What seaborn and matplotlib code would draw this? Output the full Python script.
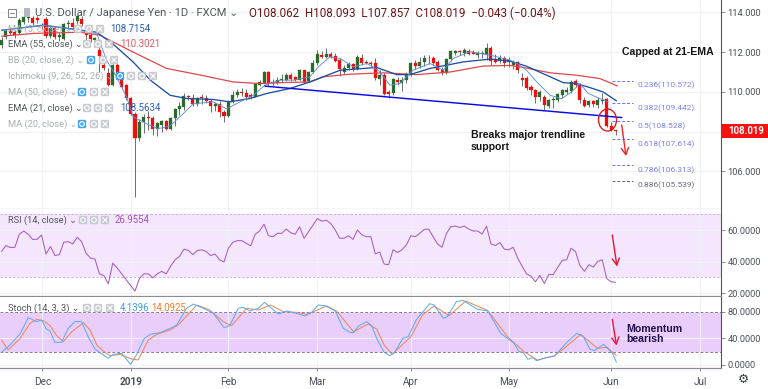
import matplotlib
matplotlib.use("Agg")
import matplotlib.pyplot as plt
from matplotlib.patches import FancyBboxPatch, Ellipse, Rectangle
import numpy as np
import seaborn as sns

# candles, one value per trading day
opens = [112.35, 112.75, 113.05, 113.0, 112.95, 113.5, 113.72, 113.7, 113.7, 113.3, 113.65, 112.8, 113.2, 112.78, 112.65, 113.4, 113.45, 113.55, 113.65, 112.95,
         112.85, 112.6, 112.1, 111.35, 110.95, 110.35, 111.35, 110.7, 110.35, 109.7, 108.9, 107.67, 108.5, 108.75, 108.7, 108.15, 108.35, 108.55, 108.15, 108.7,
         109.15, 109.25, 109.8, 109.7, 109.4, 109.7, 109.7, 109.55, 109.3, 109.4, 109.0, 108.8, 109.5, 109.85, 110.0, 109.95, 109.83, 109.75, 110.37, 110.45,
         111.0, 110.45, 110.45, 110.6, 110.6, 110.85, 110.76, 110.62, 111.09, 110.55, 111.0, 111.43, 111.88, 111.77, 111.93, 111.8, 111.6, 110.98, 111.21, 111.4,
         111.14, 111.71, 111.48, 111.46, 111.43, 110.67, 110.84, 110.0, 109.95, 110.62, 110.47, 110.59, 110.87, 111.43, 111.31, 111.48, 111.71, 111.68, 111.48, 111.09,
         110.96, 111.65, 111.97, 112.02, 111.97, 112.05, 112.02, 111.85, 111.93, 111.85, 112.22, 111.63, 111.55, 111.68, 111.5, 111.35, 111.5, 110.72, 110.72, 110.25,
         110.1, 109.75, 109.75, 109.3, 109.58, 109.58, 109.83, 110.02, 110.03, 110.53, 110.37, 109.6, 109.33, 109.52, 109.33, 109.55, 109.63, 108.3, 108.062]
highs = [112.75, 113.15, 113.2, 113.1, 113.7, 113.85, 113.85, 113.8, 113.8, 113.45, 113.75, 113.3, 113.3, 113.0, 113.45, 113.6, 113.7, 113.85, 113.8, 113.0,
         113.0, 112.75, 112.25, 111.7, 111.2, 111.4, 111.45, 110.85, 110.4, 109.75, 109.0, 108.65, 108.9, 109.05, 108.8, 108.5, 108.6, 108.6, 108.75, 109.2,
         109.5, 109.95, 109.85, 109.9, 109.75, 109.9, 109.85, 109.65, 109.5, 109.55, 109.1, 109.6, 110.05, 110.15, 110.2, 110.15, 109.95, 110.47, 110.6, 111.05,
         111.05, 110.65, 110.75, 110.92, 110.95, 110.95, 110.8, 111.15, 111.12, 111.05, 111.6, 112.12, 112.08, 112.2, 112.0, 111.95, 111.68, 111.35, 111.5, 111.45,
         111.85, 111.93, 111.62, 111.55, 111.68, 111.1, 110.95, 110.1, 110.72, 110.75, 110.75, 111.0, 111.5, 111.6, 111.75, 111.85, 111.85, 111.82, 111.62, 111.25,
         111.7, 112.1, 112.12, 112.1, 112.2, 112.15, 112.1, 112.05, 112.05, 112.45, 112.3, 111.9, 111.85, 111.8, 111.75, 111.6, 111.55, 110.95, 110.8, 110.35,
         110.15, 110.1, 109.85, 109.65, 109.75, 109.95, 110.15, 110.25, 110.6, 110.65, 110.45, 109.75, 109.6, 109.6, 109.75, 109.95, 109.68, 108.5, 108.093]
lows = [112.2, 112.65, 112.85, 112.7, 112.9, 113.4, 113.5, 113.35, 113.45, 113.15, 112.7, 112.7, 112.65, 112.55, 112.6, 113.15, 113.1, 113.4, 113.3, 112.6,
        112.5, 112.5, 111.0, 111.1, 110.3, 110.3, 110.85, 110.15, 109.6, 108.85, 104.7, 107.55, 107.95, 108.1, 107.85, 107.8, 108.0, 108.1, 108.1, 108.3,
        108.85, 109.1, 109.6, 109.3, 109.3, 109.4, 109.45, 109.0, 109.05, 108.75, 108.5, 108.75, 109.45, 109.75, 109.8, 109.6, 109.65, 109.72, 110.3, 110.42,
        110.3, 110.3, 110.4, 110.5, 110.55, 110.55, 110.55, 110.58, 110.45, 110.5, 110.95, 111.35, 111.68, 111.7, 111.7, 111.5, 110.79, 110.9, 111.1, 111.05,
        111.1, 111.35, 111.38, 111.3, 110.6, 110.34, 109.85, 109.7, 109.85, 110.35, 110.05, 110.45, 110.8, 111.15, 111.2, 111.3, 111.4, 111.35, 111.05, 110.85,
        110.9, 111.55, 111.85, 111.85, 111.8, 111.85, 111.9, 111.7, 111.7, 111.6, 111.35, 111.45, 111.45, 111.25, 111.25, 111.15, 110.95, 110.3, 110.1, 109.85,
        109.45, 109.55, 109.07, 109.2, 109.2, 109.5, 109.7, 109.9, 109.95, 110.25, 109.45, 109.25, 109.25, 109.25, 109.2, 109.4, 108.25, 108.02, 107.857]
closes = [112.6, 113.05, 112.95, 112.85, 113.6, 113.78, 113.78, 113.45, 113.62, 113.38, 112.8, 113.2, 112.75, 112.85, 113.4, 113.45, 113.25, 113.8, 113.4, 112.85,
          112.65, 112.7, 111.8, 111.2, 110.35, 111.35, 110.95, 110.25, 109.7, 108.9, 107.67, 108.5, 108.75, 108.68, 108.15, 108.45, 108.55, 108.15, 108.7, 109.15,
          109.3, 109.8, 109.75, 109.4, 109.7, 109.68, 109.55, 109.3, 109.4, 109.0, 108.8, 109.5, 109.85, 110.0, 109.95, 109.75, 109.72, 110.42, 110.5, 111.0,
          110.45, 110.5, 110.62, 110.62, 110.85, 110.67, 110.62, 111.09, 110.5, 111.0, 111.46, 111.93, 111.77, 111.93, 111.77, 111.56, 111.14, 111.22, 111.4, 111.14,
          111.73, 111.46, 111.43, 111.38, 110.7, 110.84, 109.92, 109.92, 110.67, 110.49, 110.62, 110.89, 111.43, 111.31, 111.51, 111.68, 111.68, 111.46, 111.09, 110.96,
          111.65, 112.05, 112.07, 112.0, 112.1, 111.9, 111.93, 111.98, 111.97, 112.22, 111.55, 111.51, 111.68, 111.43, 111.6, 111.5, 111.1, 110.6, 110.22, 110.1,
          109.75, 110.0, 109.33, 109.6, 109.62, 109.88, 110.1, 110.08, 110.5, 110.37, 109.58, 109.3, 109.52, 109.4, 109.6, 109.6, 108.28, 108.1, 108.019]

# moving averages, read at the visible bends
ema5_x = [0, 9.4, 14.6, 21.4, 23.6, 25.5, 28.1, 29.6, 32.6, 35.2, 37.9, 40.1, 43.1, 47.6, 50.6, 53.6, 56.6, 59.2, 62.6, 65.6, 69.3, 71.2, 73.8, 76.1, 79.1, 82.1, 84.7,
          87.3, 89.5, 92.5, 96.3, 99.3, 101.5, 105.3, 109.8, 114.3, 115.8, 118, 120.3, 123.3, 125.9, 128.1, 130, 131.9, 134.5, 136.4]
ema5_y = [113.1, 113.35, 113.2, 112.94, 111.6, 110.9, 109.75, 108.75, 108.4, 108.15, 108.3, 108.75, 109.4, 109.5, 109.15, 109.5, 109.83, 110.34, 110.59, 110.59, 110.76, 111.26, 111.76, 111.68, 111.26, 111.43, 111.09,
          110.34, 110.42, 111.09, 111.43, 111.09, 111.68, 112.02, 111.85, 111.6, 111.43, 111.09, 110.5, 109.83, 109.66, 110.0, 110.42, 109.92, 109.66, 109.5]
ema21_x = [0, 9.4, 21.4, 25.1, 29.6, 33.4, 37.9, 41.6, 47.6, 51.3, 55.8, 59.6, 64.8, 69.3, 76.1, 84.3, 88.8, 91.8, 96.3, 103.8, 109.8, 114.3, 118, 120.3, 123.3, 126.2, 129.2, 132.2, 135.2, 138.2]
ema21_y = [113.1, 113.35, 113.0, 112.4, 111.5, 110.6, 109.83, 109.67, 109.62, 109.5, 109.67, 109.92, 110.17, 110.5, 111.09, 111.23, 110.87, 110.87, 111.18, 111.51, 111.65, 111.55, 111.29, 111.06, 110.76, 110.47, 110.42, 110.22, 110.0, 109.55]
ema55_x = [0, 7.2, 17.6, 22.1, 29.6, 37.1, 44.6, 52.1, 58.1, 63.3, 69.3, 72.3, 78.3, 85.8, 93.3, 100.8, 108.3, 114.3, 116.5, 119.5, 123.3, 129.2, 134.5, 138.4]
ema55_y = [112.8, 112.94, 113.0, 112.85, 112.0, 111.18, 110.85, 110.5, 110.42, 110.47, 110.5, 110.76, 110.89, 110.96, 110.87, 111.0, 111.3, 111.33, 111.26, 111.13, 110.96, 110.84, 110.67, 110.3]

trend_x = [59.2, 139.4]
trend_y = [110.29, 108.71]

fib_levels = [110.572, 109.442, 108.528, 107.614, 106.313, 105.539]
fib_labels = ["0.236(110.572)", "0.382(109.442)", "0.5(108.528)", "0.618(107.614)", "0.786(106.313)", "0.886(105.539)"]

rsi = [46.4, 50.2, 48.9, 49.1, 57.3, 59.4, 57.3, 54.1, 54.1, 56.9, 44.8, 49.6, 43.9, 44.4, 52.3, 52.7, 51.2, 55.4, 52.7, 45.4,
       42.3, 41.6, 32.3, 31.2, 26.0, 39.1, 36.0, 32.3, 28.7, 25.0, 21.4, 29.4, 32.3, 32.3, 29.8, 32.3, 33.9, 32.3, 37.1, 41.2,
       43.3, 47.9, 47.1, 44.4, 47.1, 47.5, 46.4, 43.9, 44.8, 41.2, 39.8, 48.5, 52.3, 53.3, 53.3, 51.6, 50.0, 57.3, 59.4, 63.7,
       56.4, 55.8, 57.9, 57.9, 60.6, 58.3, 57.3, 62.1, 54.8, 58.9, 63.1, 67.3, 65.6, 66.2, 64.1, 60.0, 54.8, 54.8, 56.4, 54.1,
       60.0, 56.9, 55.8, 55.8, 45.0, 46.0, 38.5, 38.1, 47.5, 45.8, 47.5, 50.6, 56.4, 55.8, 57.9, 60.4, 60.6, 55.8, 51.2, 49.1,
       57.9, 62.1, 62.5, 61.6, 62.5, 60.6, 59.4, 59.4, 57.5, 62.5, 51.2, 50.2, 52.1, 47.9, 47.5, 49.1, 42.3, 37.1, 32.3, 30.8,
       27.3, 31.4, 26.2, 31.9, 31.9, 36.4, 40.8, 41.2, 48.5, 46.4, 37.5, 33.9, 38.1, 36.6, 40.2, 41.2, 29.4, 27.3, 26.96]

stoch_k_x = [0, 1.9, 4.2, 6.0, 7.9, 9, 10.1, 10.9, 12, 13.5, 15, 16.5, 18, 19.5, 21, 22.1, 24, 25.1, 27, 29, 30.5, 32, 33.4, 35.6, 37.9, 39.4, 41.6, 43.1, 45.4, 47.6,
             50, 51.3, 53.2, 54.3, 55.8, 57.7, 59.1, 60.7, 62.2, 64.1, 66.3, 68.2, 69.7, 71.2, 72.7, 75, 76.8, 78.3, 79.1, 80.2, 82.1, 83.2, 84.3, 86,
             87.2, 88.2, 90.2, 91.4, 93.2, 96.2, 97.2, 99.3, 100.2, 102.2, 103.7, 107, 109.3, 112.2, 115.2, 116.3, 117.2, 118.3, 119.3, 120.3, 122.3, 124.3, 127.2, 129.3, 130.8, 132.2, 133.2, 135.3, 137.3, 138.2]
stoch_k_y = [19, 30, 47, 71, 65, 67.5, 54, 51, 34, 34, 55, 65, 65, 42, 24, 18.5, 10, 16, 17.5, 1, 17.5, 39, 46, 48.5, 55, 60, 85, 91.5, 85, 77.5,
             56, 59, 85, 86.5, 81, 85, 94, 85, 76.5, 81, 77.5, 73.5, 79, 90, 89, 81, 55, 49, 48.5, 58.5, 65, 59, 40, 19,
             14, 17.5, 40, 42.5, 67.5, 92, 90, 70, 72.5, 95, 97, 83.5, 81, 47.5, 32.5, 20, 19, 8.5, 11, 6.5, 11, 13.5, 35, 47.5, 42.5, 24, 21.5, 31, 17.5, 4.14]
stoch_d_x = [0, 1.5, 4.2, 6.4, 7.9, 9.4, 10.9, 12.4, 13.9, 15.8, 18.4, 19.9, 21.4, 23.3, 24.4, 26.6, 29.2, 30.7, 33, 34.9, 37.9, 39.7, 43.9, 46.8, 49.8, 51.7, 55.1, 57.7, 60.5, 63.3, 66.3, 68.6, 73.1, 75.3, 79.1, 82.4, 84.3, 86,
             87.8, 92, 94.6, 97.2, 100.6, 104.3, 109.2, 113.7, 117.4, 120.4, 124.2, 126.4, 130.2, 133.9, 136.1, 138.2]
stoch_d_y = [37.5, 22.5, 40, 62.5, 68.5, 66.5, 59, 44, 35, 50, 63.5, 52.5, 30, 18.5, 14, 16, 9, 7.5, 37.5, 46, 52.5, 60, 90, 82.5, 65, 59, 85, 82.5, 90, 80, 79, 76, 88.5, 81, 50, 61.5, 54, 30,
             16, 42.5, 75, 88.5, 74, 96, 82, 42.5, 20, 7.5, 13.5, 25, 46, 25, 26.5, 14.09]

month_pos = [9.2, 29.2, 51, 71, 92, 114, 137, 157]
month_labels = ["Dec", "2019", "Feb", "Mar", "Apr", "May", "Jun", "Jul"]
price_ticks = [106, 108, 110, 112, 114]
rsi_ticks = [20, 40, 60]
stoch_ticks = [0, 40, 80]

W, H = 768, 389
AXIS_X = 721
GREEN, RED = "#2b6a2b", "#f20c0c"
TICK_COL = "#4a4f5a"
GRID = "#f0f2f5"

sns.set_theme(style="white")
plt.rcParams["font.family"] = ["Roboto", "DejaVu Sans"]

fig = plt.figure(figsize=(W / 100, H / 100), dpi=100)


def pane(top, bottom):
    return fig.add_axes([0, 1 - bottom / H, AXIS_X / W, (bottom - top) / H])


ax = pane(0, 208.5)
ax_rsi = pane(209, 296)
ax_st = pane(297, 368)

for a in (ax, ax_rsi, ax_st):
    a.set_xlim(-0.34, 161.7)
    a.set_xticks(month_pos)
    a.yaxis.tick_right()
    a.grid(True, color=GRID, linewidth=0.8)
    a.set_axisbelow(True)
    a.tick_params(axis="y", right=True, length=3, width=0.6, color="#777777", labelsize=6.7, labelcolor=TICK_COL, pad=1.5)
    for s in ("top", "left"):
        a.spines[s].set_visible(False)
    a.spines["right"].set_color("#555555")
    a.spines["right"].set_linewidth(0.8)
    a.spines["bottom"].set_color("#8a8d93")
    a.spines["bottom"].set_linewidth(0.9)

ax.spines["bottom"].set_color("#b5b7bb")
ax.set_ylim(104.14, 114.62)
ax.set_yticks(price_ticks)
# the 108 label sits under the last price tag, as in the original
ax.set_yticklabels(["" if v == 108 else f"{v:.3f}" for v in price_ticks])
ax_rsi.set_ylim(18.3, 73.3)
ax_rsi.set_yticks(rsi_ticks)
ax_rsi.set_yticklabels([f"{v:.4f}" for v in rsi_ticks])
ax_st.set_ylim(-4.5, 102)
ax_st.set_yticks(stoch_ticks)
ax_st.set_yticklabels([f"{v:.4f}" for v in stoch_ticks])
ax.tick_params(axis="x", bottom=False, labelbottom=False)
ax_rsi.tick_params(axis="x", bottom=False, labelbottom=False)
ax_st.tick_params(axis="x", bottom=True, length=2.5, width=0.6, color="#777777", labelsize=7.2, labelcolor=TICK_COL, pad=4)
ax_st.set_xticklabels(month_labels)
ax_st.get_xticklabels()[1].set_fontweight("bold")

# candles
idx = np.arange(len(opens))
o, h, l, c = map(np.array, (opens, highs, lows, closes))
up = c >= o
cols = np.where(up, GREEN, RED)
ax.vlines(idx, l, h, color="#555555", linewidth=0.6, zorder=3)
ax.bar(idx, np.abs(c - o).clip(min=0.04), bottom=np.minimum(o, c), width=0.68, color=cols,
       edgecolor=cols, linewidth=0.2, zorder=4)

# averages and trendline
sns.lineplot(x=ema55_x, y=ema55_y, ax=ax, color="#e0474c", linewidth=0.9, zorder=5)
sns.lineplot(x=ema21_x, y=ema21_y, ax=ax, color="#1a4fa3", linewidth=0.95, zorder=5)
sns.lineplot(x=ema5_x, y=ema5_y, ax=ax, color="#5d8fd6", linewidth=0.65, zorder=5)
sns.lineplot(x=trend_x, y=trend_y, ax=ax, color="#0a0ae6", linewidth=1.05, zorder=6)

# fibonacci levels
for lev, lab in zip(fib_levels, fib_labels):
    col = "#5a5f6a" if lab.startswith("0.886") else "#6a74f2"
    ax.hlines(lev, 137.2, 141.9, color=col, linewidth=0.7, linestyle=(0, (3, 2)), zorder=3)
    ax.text(143, lev - 0.25, lab, color=col, fontsize=6.0, va="center", ha="left", alpha=0.9)

# RSI pane
ax_rsi.axhspan(30, 70, color="#f4e6fd", zorder=0, linewidth=0)
for lev in (30, 70):
    ax_rsi.axhline(lev, color="#c9a9d6", linewidth=0.6, linestyle=(0, (3, 2)), zorder=1)
sns.lineplot(x=idx, y=rsi, ax=ax_rsi, color="#a85cc0", linewidth=0.75, zorder=4)

# stochastic pane
ax_st.axhspan(20, 80, color="#e9cdfb", zorder=0, linewidth=0)
for lev in (20, 80):
    ax_st.axhline(lev, color="#8a7a92", linewidth=0.7, linestyle=(0, (3, 2)), zorder=1)
sns.lineplot(x=stoch_d_x, y=stoch_d_y, ax=ax_st, color="#f2814f", linewidth=0.7, zorder=4)
sns.lineplot(x=stoch_k_x, y=stoch_k_y, ax=ax_st, color="#55abf5", linewidth=0.7, zorder=5)

# everything that sits on the chart in pixel positions
ov = fig.add_axes([0, 0, 1, 1])
ov.set_xlim(0, W)
ov.set_ylim(H, 0)
ov.axis("off")
ov.patch.set_alpha(0)


def icon(x, y, blue=False, glyph="o"):
    face = "#2f9bf0" if blue else "#c3c6cc"
    ov.add_patch(FancyBboxPatch((x - 3.6, y - 3.6), 7.2, 7.2, boxstyle="round,pad=0.6,rounding_size=1.5",
                                facecolor=face, edgecolor="none", alpha=0.9, zorder=9))
    if glyph == "x":
        ov.plot([x - 2.2, x + 2.2], [y - 2.2, y + 2.2], color="white", lw=0.8, zorder=10)
        ov.plot([x - 2.2, x + 2.2], [y + 2.2, y - 2.2], color="white", lw=0.8, zorder=10)
    else:
        ov.add_patch(Ellipse((x, y), 4.6, 4.6, facecolor="none", edgecolor="white", lw=0.8, zorder=10))


def legend_row(label, y, col, icons_x, blue_first=False, value=None, value_x=0, value_col="#333333"):
    ov.text(8, y, label + " \u2304", fontsize=6.7, color=col, va="center", ha="left", zorder=8)
    for n, ix in enumerate(icons_x):
        icon(ix, y, blue=blue_first and n == 0, glyph="x" if n == len(icons_x) - 1 else "o")
    if value:
        ov.text(value_x, y, value, fontsize=6.9, color=value_col, va="center", ha="left", zorder=8)


FAINT = "#a9adb5"
legend_row("MA (5, close)", 29, FAINT, [78, 89, 100], value="108.7154", value_x=110, value_col="#2d5fb4")
legend_row("EMA (55, close)", 44, "#50545c", [87, 98, 109], value="110.3021", value_x=120, value_col="#e2585c")
legend_row("BB (20, close, 2)", 60, FAINT, [91, 103, 114], blue_first=True)
legend_row("Ichimoku (9, 26, 52, 26)", 76, FAINT, [120, 131, 142, 153], blue_first=True)
legend_row("MA (50, close)", 92, FAINT, [82, 94, 105], blue_first=True)
legend_row("EMA (21, close)", 108, "#50545c", [87, 98, 109], value="108.5634", value_x=120, value_col="#2d5fb4")
legend_row("MA (20, close)", 124, FAINT, [82, 94, 105], blue_first=True)
legend_row("RSI (14, close)", 220, "#50545c", [83, 94, 105], value="26.9554", value_x=115, value_col="#a054bc")
legend_row("Stoch (14, 3, 3)", 308, "#50545c", [87, 98, 110], value="4.1396", value_x=120, value_col="#3c9df0")
ov.text(151, 308, "14.0925", fontsize=6.9, color="#f57c2a", va="center", ha="left", zorder=8)

# header
ov.add_patch(Rectangle((8, 9), 8, 8, facecolor="white", edgecolor="#6a6e76", lw=0.6, zorder=8))
ov.plot([10, 14], [13, 13], color="#6a6e76", lw=0.6, zorder=9)
ov.add_patch(Rectangle((24, 8), 6, 9, facecolor="#b4b7bd", edgecolor="none", zorder=8))
ov.text(35, 13, "U.S. Dollar / Japanese Yen \u00b7 1D \u00b7 FXCM \u2304", fontsize=8.0, color="#50545c", va="center", ha="left", zorder=8)
ov.text(249, 13, "O108.062  H108.093  L107.857  C108.019  \u22120.043 (\u22120.04%)", fontsize=8.4, color="#6e1414", va="center", ha="left", zorder=8)

# last price tag
ov.add_patch(Rectangle((AXIS_X, 123.5), W - AXIS_X, 14, facecolor="#fb0f0f", edgecolor="none", zorder=8))
ov.text(728, 130.8, "108.019", color="white", fontsize=6.9, fontweight="bold", va="center", ha="left", zorder=9)

# hand drawn notes
note = dict(family=["Liberation Sans", "DejaVu Sans"], fontweight="bold", fontsize=7.6, va="center", ha="left", zorder=9)
ov.text(622, 52, "Capped at 21-EMA", color="#151515", **note)
ov.text(471, 135, "Breaks major trendline", color="#151515", **note)
ov.text(471, 147, "support", color="#151515", **note)
ov.text(626, 329, "Momentum", color="#22104a", **note)
ov.text(626, 339.5, "bearish", color="#22104a", **note)

ov.add_patch(Ellipse((607.5, 120), 18, 22, facecolor="none", edgecolor="#e01616", lw=0.95, zorder=9))
for start, end, col in [((621.7, 125), (626, 156), "#e8262a"),
                        ((612.3, 235), (617, 266.5), "#ea1537"),
                        ((612.3, 319.3), (616.5, 345.5), "#ea1537")]:
    ov.annotate("", xy=end, xytext=start, zorder=9,
                arrowprops=dict(arrowstyle="->,head_length=0.4,head_width=0.22", color=col, lw=1.0, shrinkA=0, shrinkB=0))

ov.text(743, 379, "\u2699", family="DejaVu Sans", fontsize=9, color="#3a3e46", va="center", ha="center")

fig.savefig("out.png", dpi=100, facecolor="white")
